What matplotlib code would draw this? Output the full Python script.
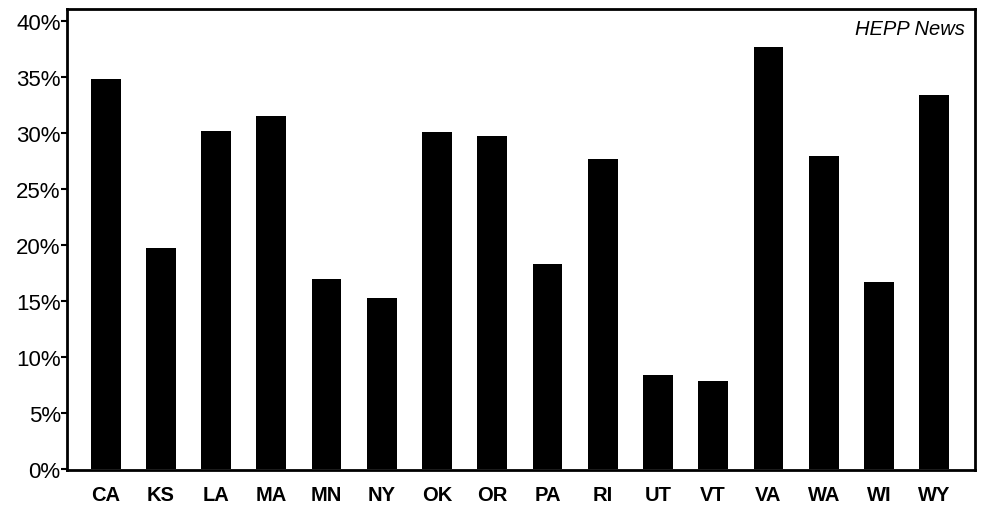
import matplotlib.pyplot as plt
from matplotlib.ticker import FuncFormatter

plt.rcParams['font.family'] = ['Liberation Sans', 'DejaVu Sans']

# Share by state, in percent
states = ['CA', 'KS', 'LA', 'MA', 'MN', 'NY', 'OK', 'OR',
          'PA', 'RI', 'UT', 'VT', 'VA', 'WA', 'WI', 'WY']
share = [34.8, 19.7, 30.2, 31.5, 16.9, 15.2, 30.1, 29.7,
         18.3, 27.7, 8.4, 7.8, 37.7, 27.9, 16.7, 33.4]
y_ticks = [0, 5, 10, 15, 20, 25, 30, 35, 40]

fig = plt.figure(figsize=(9.82, 5.06), dpi=100)
ax = fig.add_axes([0.0682, 0.0692, 0.9247, 0.912])

ax.bar(range(len(states)), share, width=0.54, color='black')

ax.set_xlim(-0.7, 15.74)
ax.set_ylim(-0.12, 41.1)
ax.set_yticks(y_ticks)
ax.yaxis.set_major_formatter(FuncFormatter(lambda v, pos: f'{v:.0f}%'))
ax.set_xticks(range(len(states)))
ax.set_xticklabels(states, fontweight='bold')

for side in ax.spines.values():
    side.set_linewidth(2)
ax.tick_params(axis='y', direction='out', length=4, width=1.5,
               labelsize=16, pad=0.5)
ax.tick_params(axis='x', length=0, labelsize=14.5, pad=11)

ax.text(0.989, 0.977, 'HEPP News', transform=ax.transAxes,
        ha='right', va='top', fontsize=14.5, style='italic')

fig.savefig('out.png', dpi=100)
